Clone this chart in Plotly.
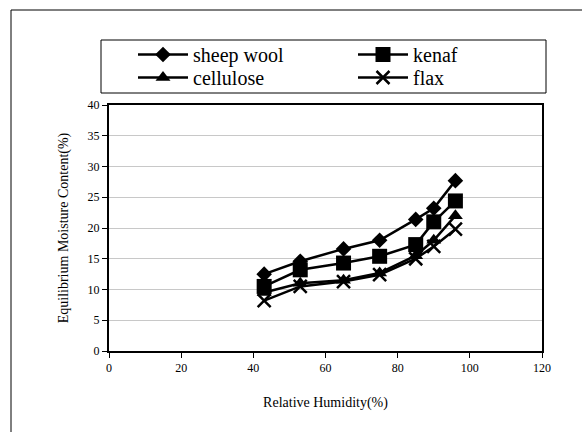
import plotly.graph_objects as go

rh = [43, 53, 65, 75, 85, 90, 96]
sheep_wool = [12.5, 14.6, 16.6, 18.0, 21.4, 23.2, 27.7]
kenaf = [10.5, 13.2, 14.3, 15.4, 17.3, 21.0, 24.4]
cellulose = [9.5, 11.0, 11.5, 12.7, 15.5, 18.0, 22.0]
flax = [8.2, 10.5, 11.3, 12.4, 15.0, 17.0, 19.8]

W, H = 582, 432
L, R, T, B = 109, 40, 105, 81
pw, ph = W - L - R, H - T - B

def px(x):
    return (x - L) / pw

def py(y):
    return (H - B - y) / ph

serif = "Times New Roman"

series = [
    ("sheep wool", sheep_wool, dict(symbol="diamond", size=12), "legend", 133, 35),
    ("kenaf", kenaf, dict(symbol="square", size=15), "legend2", 353, 35),
    ("cellulose", cellulose, dict(symbol="triangle-up", size=13), "legend3", 133, 58),
    ("flax", flax, dict(symbol="x-thin-open", size=13, line=dict(width=2.5, color="black")), "legend4", 353, 58),
]

fig = go.Figure()
legends = {}
for name, ys, mk, lg, lx, ly in series:
    m = dict(color="black")
    m.update(mk)
    fig.add_trace(go.Scatter(x=rh, y=ys, name=name, mode="lines+markers", legend=lg,
                             line=dict(color="black", width=2.5), marker=m))
    legends[lg] = dict(x=px(lx), y=py(ly), xanchor="left", yanchor="top",
                       font=dict(family=serif, size=20, color="black"),
                       itemwidth=50,
                       bgcolor="rgba(0,0,0,0)", borderwidth=0)

fig.update_layout(
    width=W, height=H,
    margin=dict(l=L, r=R, t=T, b=B),
    paper_bgcolor="white", plot_bgcolor="white",
    font=dict(family=serif, color="black", size=12),
    showlegend=True,
    xaxis=dict(range=[0, 120], dtick=20, showgrid=False, zeroline=False,
               showline=True, linecolor="black", linewidth=2, mirror=True,
               ticks="outside", ticklen=5, tickcolor="black", tickwidth=1,
               tickfont=dict(family=serif, size=12),
               title=dict(text="Relative Humidity(%)", font=dict(family=serif, size=14), standoff=23)),
    yaxis=dict(range=[0, 40], dtick=5, showgrid=True, gridcolor="#c8c8c8", gridwidth=1,
               zeroline=False, showline=True, linecolor="black", linewidth=2, mirror=True,
               ticks="outside", ticklen=5, tickcolor="black", tickwidth=1,
               tickfont=dict(family=serif, size=12),
               title=dict(text="Equilibrium Moisture Content(%)", font=dict(family=serif, size=14), standoff=16)),
    shapes=[
        dict(type="rect", xref="paper", yref="paper",
             x0=px(11), x1=px(W + 20), y0=py(10), y1=py(H + 20),
             line=dict(color="black", width=1), fillcolor="rgba(0,0,0,0)", layer="below"),
        dict(type="rect", xref="paper", yref="paper",
             x0=px(101), x1=px(546), y0=py(40), y1=py(93),
             line=dict(color="black", width=1), fillcolor="rgba(0,0,0,0)"),
    ],
)
fig.update_layout(**legends)

fig.write_html("out.html", config={"displayModeBar": False},
               post_script="document.body.style.margin='0';")
